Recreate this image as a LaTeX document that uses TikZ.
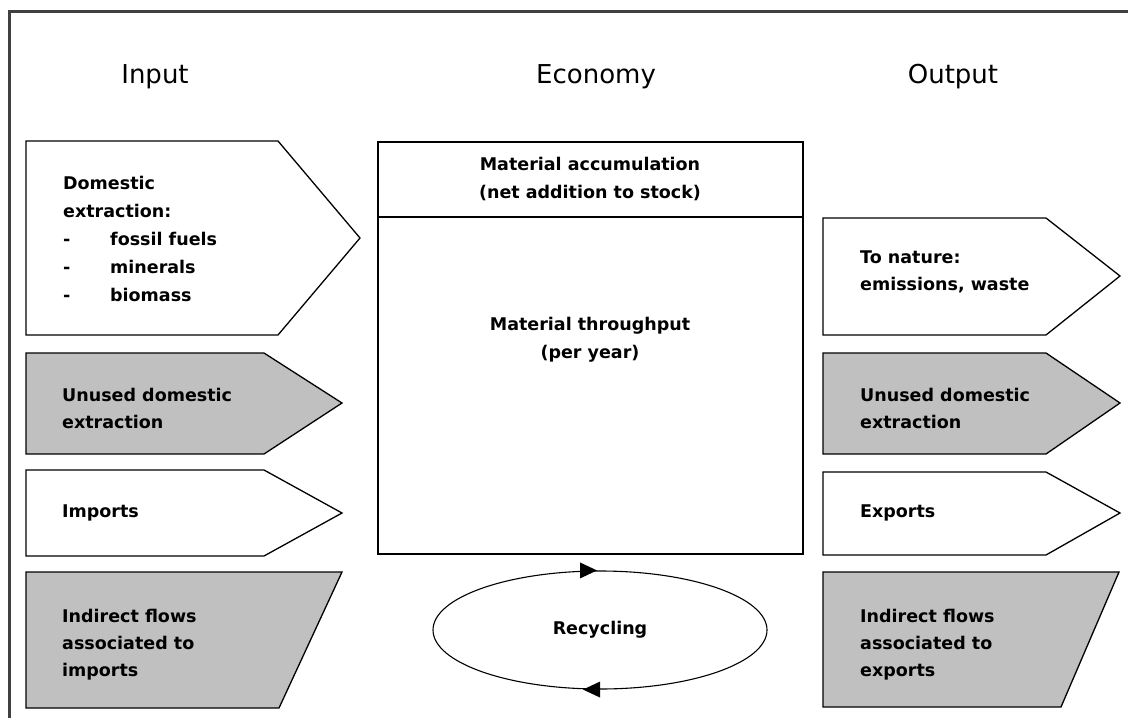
\documentclass[tikz,border=0pt]{standalone}
\usepackage{fontspec}
\setmainfont{DejaVu Sans}
\usetikzlibrary{shapes.geometric}
\definecolor{boxgray}{HTML}{C0C0C0}
\begin{document}
\begin{tikzpicture}[x=1pt,y=-1pt,
  outline/.style={draw=black,line width=1.3pt,line join=miter},
  shaded/.style={outline,fill=boxgray},
  heading/.style={font=\fontsize{26}{30}\selectfont,inner sep=0pt},
  lbl/.style={font=\bfseries\fontsize{17.5}{27}\selectfont,align=left,anchor=west,inner sep=0pt},
  clbl/.style={font=\bfseries\fontsize{17.5}{28}\selectfont,align=center,inner sep=0pt},
  tipmark/.style={fill=black}]
\useasboundingbox (0,0) rectangle (1128,718);
\fill[white] (0,0) rectangle (1128,718);
% frame
\draw[black!75,line width=3pt] (9,718) -- (9,11) -- (1128,11);

% headings
\node[heading] (hIn)  at (155,77) {Input};
\node[heading] (hEco) at (596,77) {Economy};
\node[heading] (hOut) at (953,77) {Output};

% input column
\draw[outline] (26,141) -- (278,141) -- (360,238) -- (278,335) -- (26,335) -- cycle;
\draw[shaded]  (26,353) -- (264,353) -- (342,403) -- (264,454) -- (26,454) -- cycle;
\draw[outline] (26,470) -- (264,470) -- (342,513) -- (264,556) -- (26,556) -- cycle;
\draw[shaded]  (26,572) -- (342,572) -- (279,708) -- (26,708) -- cycle;

\node[lbl,font=\bfseries\fontsize{17.5}{28}\selectfont] (tDom) at (63,239)
  {Domestic\\extraction:\\\makebox[47pt][l]{-}fossil fuels\\\makebox[47pt][l]{-}minerals\\\makebox[47pt][l]{-}biomass};
\node[lbl] (tUnIn)  at (62,408) {Unused domestic\\extraction};
\node[lbl] (tImp)   at (62,513) {Imports};
\node[lbl] (tIndIn) at (62,645) {Indirect flows\\associated to\\imports};

% economy
\draw[outline] (378,142) rectangle (803,554);
\draw[black,line width=2.6pt] (378,217) -- (803,217);
\node[clbl] (tAcc)  at (590,179) {Material accumulation\\(net addition to stock)};
\node[clbl] (tThru) at (590,340) {Material throughput\\(per year)};

% recycling
\node[draw,ellipse,line width=1.1pt,minimum width=334pt,minimum height=118pt,inner sep=0pt,
      font=\bfseries\fontsize{17.5}{21}\selectfont] (recy) at (600,630) {Recycling};
\fill[tipmark] (recy.north) ++(-20,-8) -- ++(0,16) -- ++(17,-8) -- cycle;
\fill[tipmark] (recy.south) ++(0,-8) -- ++(0,16) -- ++(-17,-8) -- cycle;

% output column
\draw[outline] (823,218) -- (1046,218) -- (1120,276) -- (1046,335) -- (823,335) -- cycle;
\draw[shaded]  (823,353) -- (1046,353) -- (1120,403) -- (1046,454) -- (823,454) -- cycle;
\draw[outline] (823,472) -- (1046,472) -- (1120,513) -- (1046,555) -- (823,555) -- cycle;
\draw[shaded]  (823,572) -- (1119,572) -- (1061,707) -- (823,707) -- cycle;

\node[lbl] (tNat)    at (860,272) {To nature:\\emissions, waste};
\node[lbl] (tUnOut)  at (860,408) {Unused domestic\\extraction};
\node[lbl] (tExp)    at (860,513) {Exports};
\node[lbl] (tIndOut) at (860,645) {Indirect flows\\associated to\\exports};
\end{tikzpicture}
\end{document}
